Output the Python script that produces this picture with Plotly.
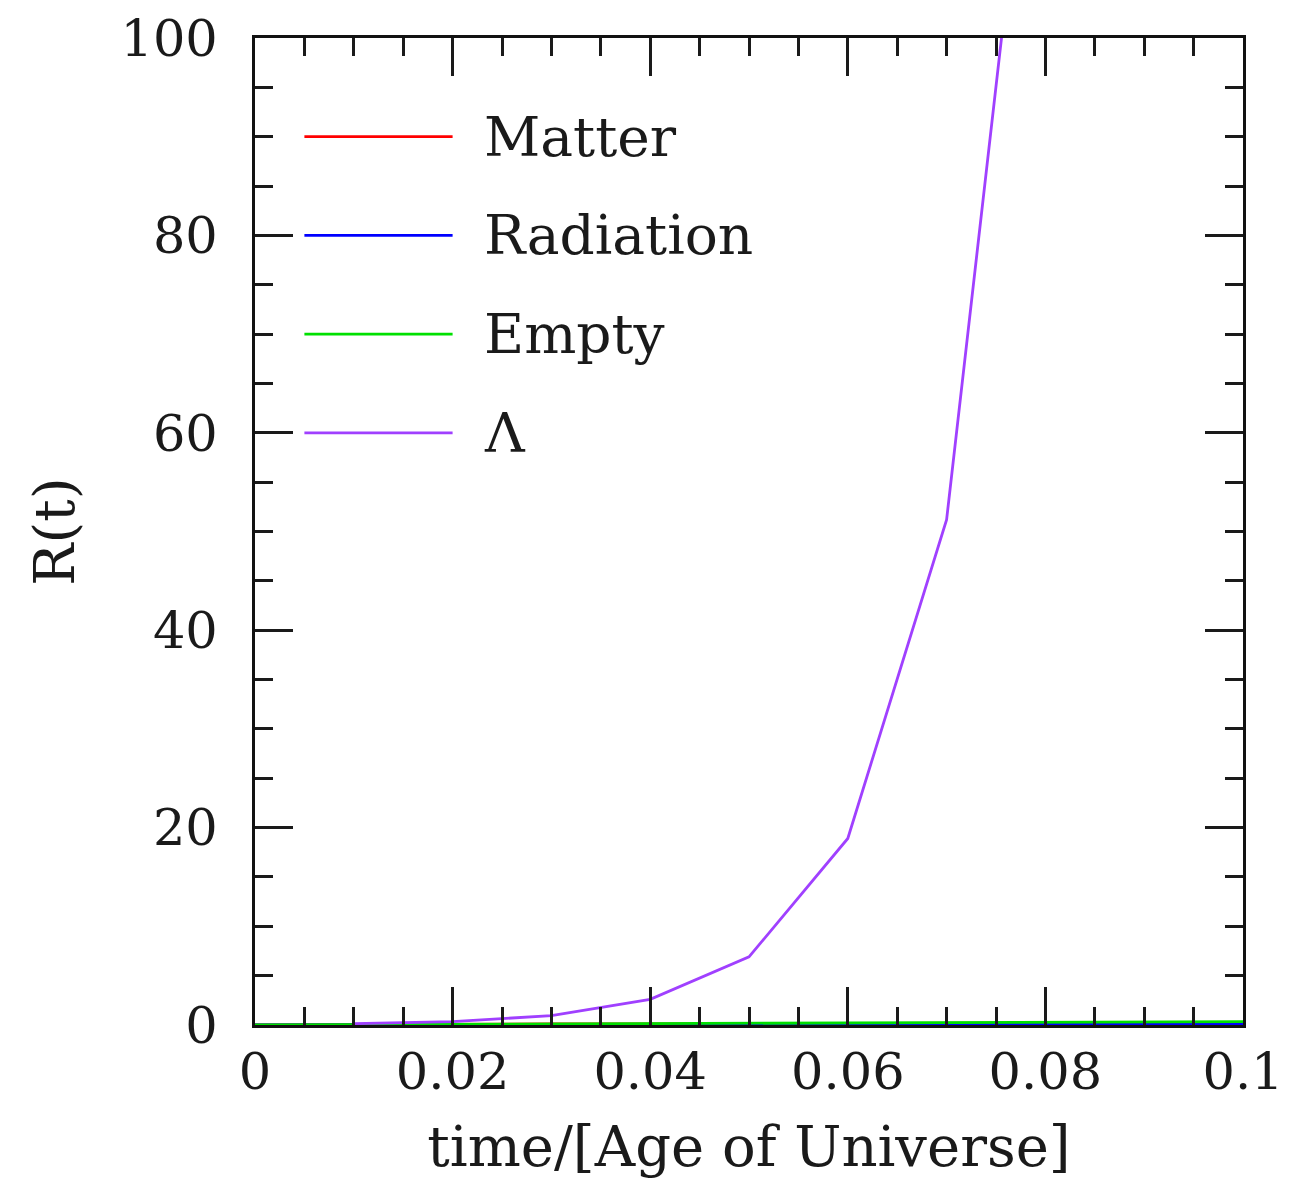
import plotly.graph_objects as go

# ---- data ----
t_lambda = [0.01, 0.02, 0.03, 0.04, 0.05, 0.06, 0.07, 0.08]
R_lambda = [0.13, 0.35, 0.95, 2.6, 6.9, 18.9, 51.2, 139.0]

t_all = [0.0, 0.01, 0.02, 0.03, 0.04, 0.05, 0.06, 0.07, 0.08, 0.09, 0.1]
R_matter = [0.0, 0.05, 0.07, 0.1, 0.12, 0.14, 0.15, 0.17, 0.19, 0.2, 0.22]
R_radiation = [0.0, 0.01, 0.02, 0.03, 0.04, 0.05, 0.06, 0.07, 0.08, 0.09, 0.1]
R_empty = [0.0, 0.03, 0.07, 0.1, 0.14, 0.17, 0.21, 0.24, 0.28, 0.31, 0.35]

series_names = ["Matter", "Radiation", "Empty", "Λ"]
series_colors = ["#ff0000", "#0000ff", "#00e000", "#a040ff"]
legend_y = [90, 80, 70, 60]
legend_x = [0.005, 0.02]

x_ticks = [0, 0.02, 0.04, 0.06, 0.08, 0.1]
x_ticklabels = ["0", "0.02", "0.04", "0.06", "0.08", "0.1"]
y_ticks = [0, 20, 40, 60, 80, 100]
y_ticklabels = ["0", "20", "40", "60", "80", "100"]

FONT = "DejaVu Serif"
TXT = "#1a1a1a"
TICKC = "#1a1a1a"

fig = go.Figure()
series = [
    (t_all, R_matter),
    (t_all, R_radiation),
    (t_all, R_empty),
    (t_lambda, R_lambda),
]
for (xs, ys), name, col in zip(series, series_names, series_colors):
    fig.add_trace(go.Scatter(x=xs, y=ys, mode="lines", name=name,
                             line=dict(color=col, width=2.8),
                             showlegend=False, cliponaxis=True))

# hand-drawn legend inside the plot
for name, col, ly in zip(series_names, series_colors, legend_y):
    fig.add_shape(type="line", xref="x", yref="y",
                  x0=legend_x[0], x1=legend_x[1], y0=ly, y1=ly,
                  line=dict(color=col, width=2.8))
    fig.add_annotation(x=0.023, y=ly, xref="x", yref="y", text=name,
                       showarrow=False, xanchor="left", yanchor="middle",
                       font=dict(family=FONT, size=55, color=TXT))

axis_common = dict(
    showline=True, linecolor="#111111", linewidth=3, mirror="ticks",
    ticks="inside", tickcolor=TICKC, tickwidth=2.6, ticklen=38,
    showgrid=False, zeroline=False,
    tickfont=dict(family=FONT, size=51, color=TXT),
    ticklabeloverflow="allow",
)

fig.update_xaxes(
    range=[0, 0.1], tickvals=x_ticks, ticktext=x_ticklabels,
    minor=dict(dtick=0.005, ticks="inside", ticklen=18, tickwidth=2.6, tickcolor=TICKC),
    ticklabelstandoff=0,
    title=dict(text="time/[Age of Universe]", font=dict(family=FONT, size=56, color=TXT), standoff=30),
    **axis_common,
)
fig.update_yaxes(
    range=[0, 100], tickvals=y_ticks, ticktext=y_ticklabels,
    minor=dict(dtick=5, ticks="inside", ticklen=18, tickwidth=2.6, tickcolor=TICKC),
    ticklabelstandoff=24,
    title=dict(text="R(t)", font=dict(family=FONT, size=56, color=TXT), standoff=28),
    **axis_common,
)

fig.update_layout(
    width=1295, height=1171,
    margin=dict(l=247, r=60, t=30, b=154, autoexpand=False),
    plot_bgcolor="white", paper_bgcolor="white",
    showlegend=False,
)

fig.write_html("out.html")
